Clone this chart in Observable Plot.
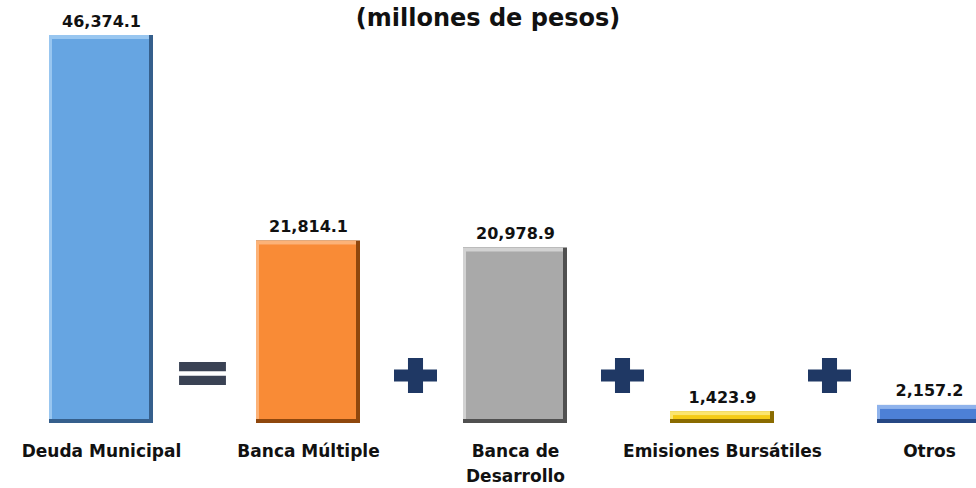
<!DOCTYPE html>
<html>
<head>
<meta charset="utf-8">
<script src="https://cdn.jsdelivr.net/npm/d3@7"></script>
<script src="https://cdn.jsdelivr.net/npm/@observablehq/plot@0.6"></script>
<style>
  html, body { margin: 0; padding: 0; background: #fff; overflow: hidden; }
  #wrap { position: relative; width: 976px; height: 488px; overflow: hidden; }
  #title { position: absolute; top: 3px; left: 0; width: 976px; text-align: center;
    font-family: "DejaVu Sans", sans-serif; font-weight: bold; font-size: 24px; line-height: 30px; color: #111; }
  #chart { position: absolute; top: 0; left: 0; }
</style>
</head>
<body>
<div id="wrap">
  <div id="chart"></div>
  <div id="title">(millones de pesos)</div>
</div>
<script>
// ---- data ----
const categories = ["Deuda Municipal", "Banca Múltiple", "Banca de Desarrollo", "Emisiones Bursátiles", "Otros"];
const tickLabels = ["Deuda Municipal", "Banca Múltiple", "Banca de\nDesarrollo", "Emisiones Bursátiles", "Otros"];
const values = [46374.1, 21814.1, 20978.9, 1423.9, 2157.2];
const operators = ["=", "+", "+", "+"];

// ---- styles ----
const mainColors = ["#66a5e2", "#f98b36", "#a9a9a9", "#f5cb14", "#4d80d6"];
const darkColors = ["#355f8c", "#8f470d", "#505050", "#8a6b00", "#264784"];
const lightColors = ["#98c6f0", "#fcb277", "#d2d2d2", "#fbe56e", "#8fb3ec"];

const data = categories.map((c, i) => ({cat: c, value: values[i], i}));
const ops = operators.map((op, i) => ({op, after: categories[i]}));
const labelOf = Object.fromEntries(categories.map((c, i) => [c, tickLabels[i]]));
const fmt = d3.format(",.1f");

const plusSymbol = {
  draw(ctx, size) {
    const r = Math.sqrt(size / Math.PI);
    const w = r, h = r * 0.81, th = r * 0.28, tv = r * 0.35;
    ctx.moveTo(-tv, -h); ctx.lineTo(tv, -h); ctx.lineTo(tv, -th); ctx.lineTo(w, -th);
    ctx.lineTo(w, th); ctx.lineTo(tv, th); ctx.lineTo(tv, h); ctx.lineTo(-tv, h);
    ctx.lineTo(-tv, th); ctx.lineTo(-w, th); ctx.lineTo(-w, -th); ctx.lineTo(-tv, -th);
    ctx.closePath();
  }
};
const equalsSymbol = {
  draw(ctx, size) {
    const r = Math.sqrt(size / Math.PI);
    const w = r * 1.09, t = r * 0.44, g = r * 0.1;
    ctx.rect(-w, -g - t, 2 * w, t);
    ctx.rect(-w, g, 2 * w, t);
  }
};

const chart = Plot.plot({
  width: 976,
  height: 488,
  marginLeft: -4,
  marginRight: -58,
  marginTop: 35,
  marginBottom: 65,
  style: {fontFamily: "DejaVu Sans, sans-serif", background: "transparent", overflow: "visible"},
  x: {type: "band", domain: categories, paddingInner: 0.5, paddingOuter: 0.25, axis: null},
  y: {domain: [0, d3.max(values)], axis: null},
  marks: [
    Plot.barY(data, {x: "cat", y: "value", fill: d => darkColors[d.i]}),
    Plot.barY(data, {x: "cat", y: "value", fill: d => lightColors[d.i], insetRight: 4, insetBottom: 4}),
    Plot.barY(data, {x: "cat", y: "value", fill: d => mainColors[d.i], insetLeft: 3, insetTop: 4, insetRight: 4, insetBottom: 4}),
    Plot.text(data, {x: "cat", y: "value", text: d => fmt(d.value), lineAnchor: "bottom", dy: -9,
      fontSize: 16, fontWeight: "bold", fill: "#111"}),
    Plot.dot(ops.filter(d => d.op === "="), {x: "after", frameAnchor: "bottom", dx: 101, dy: -50,
      r: 21.5, symbol: equalsSymbol, fill: "#3a4254", stroke: null}),
    Plot.dot(ops.filter(d => d.op === "+"), {x: "after", frameAnchor: "bottom", dx: 107, dy: -48,
      r: 21.5, symbol: plusSymbol, fill: "#1f3864", stroke: null}),
    Plot.axisX({tickSize: 0, tickPadding: 15, fontSize: 17, fontWeight: "bold", lineHeight: 1.5,
      fill: "#111", tickFormat: d => labelOf[d], label: null})
  ]
});
document.getElementById("chart").appendChild(chart);
</script>
</body>
</html>
